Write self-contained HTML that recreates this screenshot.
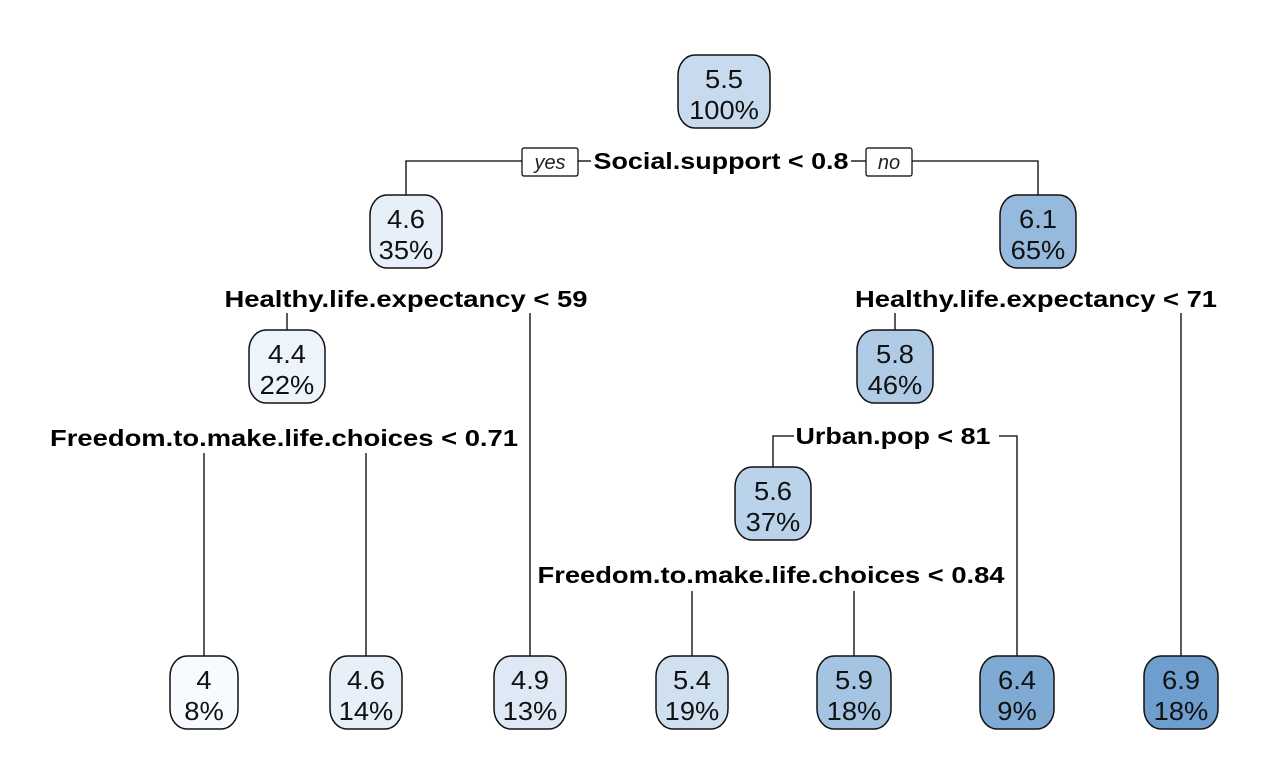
<!DOCTYPE html>
<html><head><meta charset="utf-8"><style>
html,body{margin:0;padding:0;background:#fff;}
svg{display:block;font-family:"Liberation Sans",Arial,sans-serif;}
</style></head><body>
<svg id="tree" width="1280" height="783" viewBox="0 0 1280 783"></svg>
<script>
// node data
const nodeValues = ["5.5","4.6","6.1","4.4","5.8","5.6","4","4.6","4.9","5.4","5.9","6.4","6.9"];
const nodePcts = ["100%","35%","65%","22%","46%","37%","8%","14%","13%","19%","18%","9%","18%"];
const nodeNames = ["root","n2","n3","n4","n5","n6","leaf-1","leaf-2","leaf-3","leaf-4","leaf-5","leaf-6","leaf-7"];
// layout (positions, not data)
const nodeX = [724,406,1038,287,895,773,204,366,530,692,854,1017,1181];
const nodeY = [55,195,195,330,330,467,656,656,656,656,656,656,656];
const nodeW = [92,72,76,76,76,76,68,72,72,72,74,74,74];
const nodeH = 73;
const fills = {"4":"#f7fbff","4.4":"#eef4fb","4.6":"#e7f0f9","4.9":"#dee9f5","5.4":"#cfe0f1","5.5":"#c8daee","5.6":"#bad2ea","5.8":"#b0cbe6","5.9":"#a4c4e2","6.1":"#95badd","6.4":"#7eaad4","6.9":"#6d9ecd"};
const svg = document.getElementById('tree');
const NS = "http://www.w3.org/2000/svg";
function mk(tag, attrs){const e=document.createElementNS(NS,tag);for(const k in attrs)e.setAttribute(k,attrs[k]);svg.appendChild(e);return e;}
function stretch(e,f){const w=e.getComputedTextLength();e.setAttribute('textLength',(w*f).toFixed(1));e.setAttribute('lengthAdjust','spacingAndGlyphs');}
function line(pts,name){const p=mk('polyline',{points:pts,fill:'none',stroke:'#000','stroke-width':1.3});

}
// edges
line("522,161 406,161 406,195","edge-yes");
line("912,161 1038,161 1038,195","edge-no");
line("287,313 287,330","edge-n4");
line("530,313 530,656","edge-leaf-3");
line("895,313 895,330","edge-n5");
line("1181,313 1181,656","edge-leaf-7");
line("204,453 204,656","edge-leaf-1");
line("366,453 366,656","edge-leaf-2");
line("794,436 773,436 773,467","edge-n6");
line("999,436 1017,436 1017,656","edge-leaf-6");
line("692,591 692,656","edge-leaf-4");
line("854,591 854,656","edge-leaf-5");
line("578,161 591,161","edge-yes-stub");
line("851,161 866,161","edge-no-stub");
// split labels
const splitText = ["Social.support < 0.8","Healthy.life.expectancy < 59","Healthy.life.expectancy < 71","Freedom.to.make.life.choices < 0.71","Urban.pop < 81","Freedom.to.make.life.choices < 0.84"];
const splitX = [721,406,1036,284,893,771];
const splitY = [169,307,307,446,444,583];
const splitWidth = [255,363,362,468,195,467];
const splitNames = ["split-social-support","split-life-expectancy-left","split-life-expectancy-right","split-freedom-left","split-urban-pop","split-freedom-right"];
splitText.forEach((t,i)=>{const e=mk('text',{x:splitX[i],y:splitY[i],'text-anchor':'middle','font-size':23,'font-weight':'bold',fill:'#000'});e.textContent=t;
e.setAttribute('textLength',splitWidth[i]);e.setAttribute('lengthAdjust','spacingAndGlyphs');

});
// yes/no boxes
[["yes",522,578,"yes-label"],["no",866,912,"no-label"]].forEach(b=>{
const r=mk('rect',{x:b[1],y:148,width:b[2]-b[1],height:28,rx:2,fill:'#fff',stroke:'#000','stroke-width':1.2});


const t=mk('text',{x:(b[1]+b[2])/2,y:169,'text-anchor':'middle','font-size':20,'font-style':'italic',fill:'#222'});t.textContent=b[0];

});
// nodes
nodeValues.forEach((v,i)=>{
const w=nodeW[i],x=nodeX[i]-w/2,y=nodeY[i];
const r=mk('rect',{x:x,y:y,width:w,height:nodeH,rx:17,ry:20,fill:fills[v]||'#ccc',stroke:'#111','stroke-width':1.5});


const t1=mk('text',{x:nodeX[i],y:y+33,'text-anchor':'middle','font-size':26,fill:'#111'});t1.textContent=v;
stretch(t1,1.05);


const t2=mk('text',{x:nodeX[i],y:y+64,'text-anchor':'middle','font-size':26,fill:'#111'});t2.textContent=nodePcts[i];
stretch(t2,1.05);


});
</script>
</body></html>
